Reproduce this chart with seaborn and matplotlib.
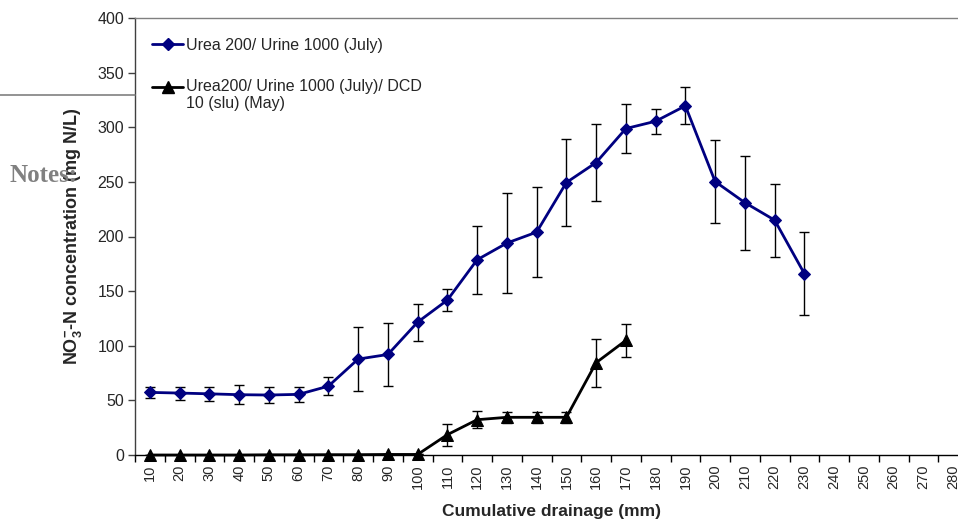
import matplotlib
matplotlib.use("Agg")
import matplotlib.pyplot as plt
import seaborn as sns
import pandas as pd
import numpy as np
from matplotlib.lines import Line2D
from matplotlib.legend_handler import HandlerLine2D

# cumulative drainage (mm)
drain_ticks = list(range(10, 290, 10))

urea_x = list(range(10, 240, 10))
urea_y = [57.3, 56.7, 56.0, 55.2, 54.9, 55.5, 63.0, 87.8, 92.0, 121.6, 141.8, 178.7,
          194.0, 204.0, 249.4, 267.7, 298.8, 305.5, 319.6, 250.3, 231.0, 215.0, 166.0]
urea_err = [5.0, 6.0, 6.5, 8.5, 7.5, 7.0, 8.0, 29.0, 29.0, 17.0, 10.0, 31.0,
            45.5, 41.0, 40.0, 35.0, 22.5, 11.5, 17.0, 38.0, 43.0, 33.5, 38.0]

dcd_x = list(range(10, 180, 10))
dcd_y = [0.0, 0.0, 0.0, 0.0, 0.2, 0.2, 0.3, 0.3, 0.5, 0.5, 18.6, 32.3, 34.5, 34.5, 34.5, 84.5, 104.9]
dcd_err = [0.0, 0.0, 0.0, 0.0, 0.0, 0.0, 0.0, 0.0, 0.0, 0.0, 10.0, 8.0, 5.0, 5.0, 5.0, 22.0, 15.0]

lab_urea = "Urea 200/ Urine 1000 (July)"
lab_dcd = "Urea200/ Urine 1000 (July)/ DCD\n10 (slu) (May)"

df = pd.concat([
    pd.DataFrame({"drainage": urea_x, "no3": urea_y, "err": urea_err, "series": lab_urea}),
    pd.DataFrame({"drainage": dcd_x, "no3": dcd_y, "err": dcd_err, "series": lab_dcd}),
])


class RaisedLine(HandlerLine2D):
    # keep the legend key level with the first line of a two-line label
    def __init__(self, shift, **kw):
        super().__init__(**kw)
        self.shift = shift

    def create_artists(self, legend, orig_handle, xdescent, ydescent, width, height, fontsize, trans):
        arts = super().create_artists(legend, orig_handle, xdescent, ydescent, width, height, fontsize, trans)
        for a in arts:
            a.set_ydata(np.asarray(a.get_ydata()) + self.shift * fontsize)
        return arts


sns.set_style("white")
plt.rcParams["font.family"] = ["Liberation Sans", "DejaVu Sans"]
plt.rcParams["mathtext.fontset"] = "custom"
plt.rcParams["mathtext.rm"] = "Liberation Sans:bold"
plt.rcParams["mathtext.bf"] = "Liberation Sans:bold"

fig = plt.figure(figsize=(9.58, 5.24), dpi=100)
ax = fig.add_axes([135 / 958, 1 - 455 / 524, (968 - 135) / 958, (455 - 18) / 524])

colors = {lab_urea: "#000080", lab_dcd: "black"}
markers = {lab_urea: "D", lab_dcd: "^"}
sizes = {lab_urea: 6.5, lab_dcd: 8}

for name, sub in df.groupby("series", sort=False):
    ax.errorbar(sub["drainage"], sub["no3"], yerr=sub["err"], fmt="none",
                ecolor="black", elinewidth=1, capsize=3.5, capthick=1, zorder=2)
    sns.lineplot(data=sub, x="drainage", y="no3", color=colors[name],
                 marker=markers[name], markersize=sizes[name], markeredgecolor=colors[name],
                 linewidth=2, ax=ax, zorder=3, legend=False, clip_on=False)

ax.set_xlim(5, 285)
ax.set_ylim(0, 400)
ax.set_xticks(drain_ticks)
ax.set_xticklabels([str(t) for t in drain_ticks], rotation=90, fontsize=10.5)
ax.set_xticks([t + 5 for t in range(0, 290, 10)], minor=True)
ax.tick_params(axis="x", which="major", length=0, pad=7, bottom=True)
ax.tick_params(axis="x", which="minor", length=5, width=1, color="black", direction="out", bottom=True)
ax.set_yticks(range(0, 401, 50))
ax.tick_params(axis="y", length=5, width=1, color="#404040", direction="out",
               labelsize=11.5, pad=3, left=True)

ax.spines["right"].set_visible(False)
ax.spines["top"].set_color("#808080")
ax.spines["left"].set_color("#404040")
ax.spines["bottom"].set_color("black")
for s in ax.spines.values():
    s.set_linewidth(1)

ax.set_xlabel("Cumulative drainage (mm)", fontsize=12.5, fontweight="bold")
ax.set_ylabel(r"NO$_{3}^{-}$-N concentration (mg N/L)", fontsize=13, fontweight="bold")
ax.xaxis.set_label_coords(0.5, -0.112)
ax.yaxis.set_label_coords((84 - 135) / 833, 0.5)

handles = [Line2D([], [], color=colors[k], marker=markers[k], markersize=sizes[k], linewidth=2)
           for k in [lab_urea, lab_dcd]]
leg = ax.legend(handles, [lab_urea, lab_dcd], loc="upper left",
                bbox_to_anchor=((152 - 135) / 833, (455 - 38) / 437),
                frameon=False, fontsize=11.5, handlelength=1.95, handletextpad=0.2,
                labelspacing=1.65, borderpad=0, borderaxespad=0,
                handler_map={handles[1]: RaisedLine(0.52)})
for t in leg.get_texts():
    t.set_linespacing(1.1)

# overlay artefacts from the source page
fig.add_artist(Line2D([0, 135 / 958], [1 - 95 / 524, 1 - 95 / 524], color="#808080", linewidth=1.2))
fig.text(9 / 958, 1 - 176 / 524, "Notes:", fontsize=18, fontweight="bold", color="#808080",
         family=["Liberation Serif", "DejaVu Serif"], va="center", ha="left", zorder=0)

fig.savefig("out.png", dpi=100)
